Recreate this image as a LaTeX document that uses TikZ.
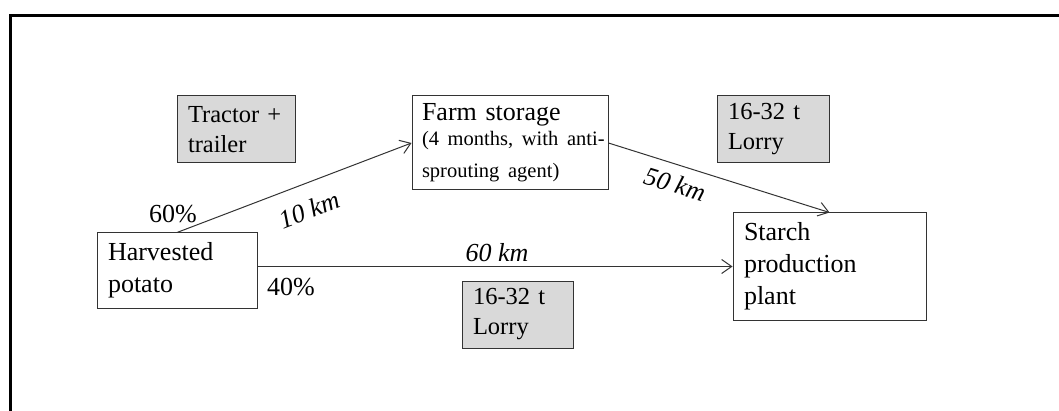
\documentclass[tikz,border=0pt]{standalone}
\usepackage{fontspec}
\setmainfont{Liberation Serif}
\usetikzlibrary{arrows.meta}
\tikzset{
  box/.style={draw=black!80, line width=0.5pt, align=left, inner xsep=5.5pt, inner ysep=0pt,
    font=\fontsize{13}{16}\selectfont},
  vehicle/.style={box, fill=black!15, font=\fontsize{12.25}{15}\selectfont},
  flow/.style={draw=black!80, line width=0.5pt, -{Straight Barb[length=5pt,width=7pt]}},
  dist/.style={font=\fontsize{13}{16}\selectfont\itshape, inner sep=0pt},
  share/.style={font=\fontsize{13}{16}\selectfont, inner sep=0pt}
}
\begin{document}
\begin{tikzpicture}[x=0.5pt,y=-0.5pt]
  \useasboundingbox (0,0) rectangle (1059,411);
  % frame
  \draw[line width=1.5pt] (10,411) -- (10,16) -- (1059,16);
  % chain
  \node[box, text width=69pt, minimum height=37.5pt] (potato) at (177,270.5) {Harvested\\potato};
  \node[box, inner xsep=5pt, text width=88pt, minimum height=47pt] (storage) at (510,143)
    {Farm storage\\\fontsize{10.25}{12.5}\selectfont\mbox{(4 months, with anti-}\\\mbox{sprouting agent)}};
  \node[box, text width=85.5pt, minimum height=53.5pt] (plant) at (829.5,266.5) {Starch\\production\\plant};
  % vehicles
  \node[vehicle, text width=48pt, minimum height=33.5pt] (tractor) at (236,129.5) {Tractor +\\trailer};
  \node[vehicle, text width=45pt, minimum height=33.5pt] (lorrytop) at (773,129.5) {16-32 t\\Lorry};
  \node[vehicle, text width=44.5pt, minimum height=33.5pt] (lorrylow) at (517.5,314.5) {16-32 t\\Lorry};
  % flows
  \draw[flow] (potato.north) -- (storage.west);
  \draw[flow] (potato.east |- plant.west) -- (plant.west);
  \draw[flow] (storage.east) -- (plant.north);
  % shares and distances
  \node[share] (p60) at (173,214) {60\%};
  \node[share] (p40) at (291,287) {40\%};
  \node[dist, rotate=21] (d10) at (309,210) {10 km};
  \node[dist, rotate=-17] (d50) at (675,184) {50 km};
  \node[dist] (d60) at (497,253) {60 km};
\end{tikzpicture}
\end{document}
